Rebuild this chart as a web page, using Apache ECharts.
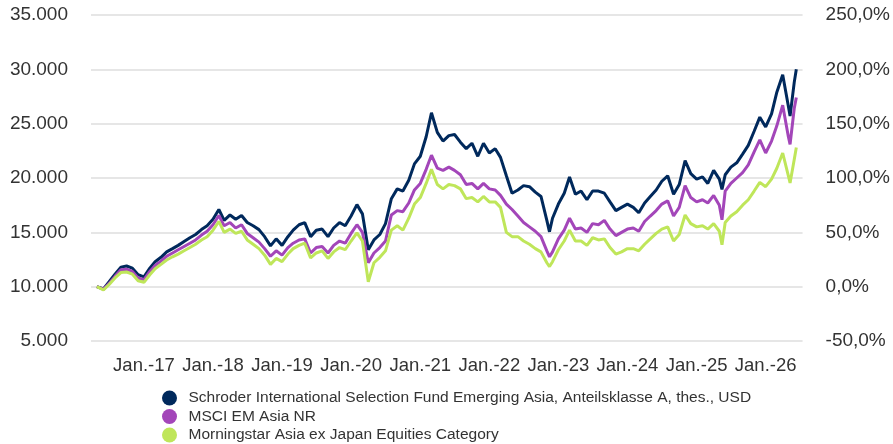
<!DOCTYPE html>
<html>
<head>
<meta charset="utf-8">
<script src="https://cdn.jsdelivr.net/npm/echarts@6/dist/echarts.min.js"></script>
<style>
html,body{margin:0;padding:0;background:#fff;}
#chart{width:893px;height:444px;}
</style>
</head>
<body>
<div id="chart"></div>
<script>
var seriesNames = [
  'Schroder International Selection Fund Emerging Asia, Anteilsklasse A, thes., USD',
  'MSCI EM Asia NR',
  'Morningstar Asia ex Japan Equities Category'
];
var seriesColors = ['#00295c', '#a346b9', '#bfe65a'];

var dates = [
'2016-04-27','2016-05-01','2016-06-01','2016-07-01','2016-08-01','2016-09-01','2016-10-01','2016-11-01','2016-12-01',
'2017-01-01','2017-02-01','2017-03-01','2017-04-01','2017-05-01','2017-06-01','2017-07-01','2017-08-01','2017-09-01','2017-10-01','2017-11-01','2017-12-01',
'2018-01-01','2018-02-01','2018-03-01','2018-04-01','2018-05-01','2018-06-01','2018-07-01','2018-08-01','2018-09-01','2018-10-01','2018-11-01','2018-12-01',
'2019-01-01','2019-02-01','2019-03-01','2019-04-01','2019-05-01','2019-06-01','2019-07-01','2019-08-01','2019-09-01','2019-10-01','2019-11-01','2019-12-01',
'2020-01-01','2020-02-01','2020-03-01','2020-04-01','2020-05-01','2020-06-01','2020-07-01','2020-08-01','2020-09-01','2020-10-01','2020-11-01','2020-12-01',
'2021-01-01','2021-02-01','2021-03-01','2021-04-01','2021-05-01','2021-06-01','2021-07-01','2021-08-01','2021-09-01','2021-10-01','2021-11-01','2021-12-01',
'2022-01-01','2022-02-01','2022-03-01','2022-04-01','2022-05-01','2022-06-01','2022-07-01','2022-08-01','2022-09-01','2022-10-01','2022-11-01','2022-11-15','2022-12-01',
'2023-01-01','2023-02-01','2023-03-01','2023-04-01','2023-05-01','2023-06-01','2023-07-01','2023-08-01','2023-09-01','2023-10-01','2023-11-01','2023-12-01',
'2024-01-01','2024-02-01','2024-03-01','2024-04-01','2024-05-01','2024-06-01','2024-07-01','2024-08-01','2024-09-01','2024-10-01','2024-11-01','2024-12-01',
'2025-01-01','2025-02-01','2025-03-01','2025-04-01','2025-05-01','2025-05-15','2025-06-01','2025-07-01','2025-08-01','2025-09-01','2025-10-01','2025-11-01','2025-12-01',
'2026-01-01','2026-02-01','2026-03-01','2026-04-01','2026-05-01','2026-05-10','2026-06-01','2026-06-12'
];

var schroder = [
10000,9950,9800,10450,11150,11800,11900,11700,11100,
10900,11700,12300,12700,13200,13500,13800,14150,14500,14800,15250,15600,
16200,17100,16100,16600,16200,16550,15900,15600,15250,14600,13750,14400,
13800,14600,15200,15700,15900,14600,15200,15300,14600,15400,15900,15600,
16500,17550,16700,13400,14300,14800,15800,18100,19000,18800,19800,21300,
22000,23800,26000,24200,23400,23900,24000,23300,22700,23200,22000,23200,
22300,22700,21900,20200,18600,18900,19300,19200,18700,18300,16100,15050,16300,
17600,18600,20100,18500,18800,18000,18800,18800,18600,17800,17000,17300,
17600,17300,16800,17700,18300,18900,19700,20200,18500,19400,21600,20400,
19900,20100,19500,20700,19900,18950,20300,21000,21400,22200,23000,24300,25600,
24700,25900,27900,29500,26600,25700,28800,30000
];

var msci = [
10000,9950,9750,10300,10950,11550,11600,11400,10800,
10650,11400,11950,12350,12800,13100,13400,13700,14000,14300,14750,15100,
15700,16550,15600,15900,15400,15700,14900,14500,14100,13500,12800,13300,
12900,13600,14000,14300,14400,13100,13600,13700,13100,13800,14200,14000,
14900,15700,15000,12200,13100,13600,14200,16600,17000,16900,17700,18900,
19500,20800,22100,20900,20700,21000,20700,20300,19400,19500,19000,19500,
19000,18900,18400,17600,17100,16500,15900,15500,15100,14600,13300,12750,13200,
14400,15200,16300,15300,15400,15000,15800,15700,16100,15300,14700,15000,
15300,15400,15100,16000,16500,17000,17600,17900,16500,17300,19300,18200,
17800,18000,17700,18400,17500,16150,18800,19500,20000,20500,21200,22400,23500,
22300,23400,24800,26700,23800,23100,26400,27400
];

var morningstar = [
10000,9900,9700,10200,10800,11300,11350,11150,10550,
10400,11100,11650,12050,12450,12750,13000,13300,13600,13900,14300,14600,
15200,16000,15000,15300,14900,15100,14300,13900,13500,12900,12050,12600,
12300,13000,13500,13800,14000,12650,13100,13300,12600,13200,13600,13400,
14200,14950,14200,10450,12200,12700,13300,15200,15600,15200,16300,17600,
18200,19500,20800,19400,19000,19400,19300,19000,18100,18200,17800,18300,
17800,17800,17300,15000,14600,14600,14200,13900,13500,13200,12200,11850,12300,
13400,14200,15200,14200,14200,13800,14500,14300,14400,13600,13000,13200,
13500,13500,13300,13900,14400,14900,15300,15500,14200,14800,16600,15800,
15500,15600,15300,15800,15100,13850,15900,16500,16900,17500,18000,18800,19600,
19200,19900,20900,22300,20200,19550,21700,22800
];

var xMin = '2016-03-27';
var xMax = '2026-07-15';

function pairs(vals){
  return dates.map(function(d,i){ return [d, vals[i]]; });
}
function parseLocal(s){
  var p = s.split('-');
  return new Date(+p[0], +p[1]-1, +p[2]).getTime();
}

var FONT = 'Arial, "Liberation Sans", sans-serif';
var TXT = '#333333';
var YEAR_MS = 365.25 * 24 * 3600 * 1000;

var chart = echarts.init(document.getElementById('chart'), null, {renderer:'canvas'});
var allVals = [schroder, msci, morningstar];

chart.setOption({
  animation: false,
  backgroundColor: '#ffffff',
  grid: {left: 91, right: 90, top: 15, bottom: 103, containLabel: false},
  legend: {
    orient: 'vertical',
    left: 162, top: 390, width: 700, height: 80,
    padding: 0,
    itemWidth: 28, itemHeight: 15, itemGap: 2.5,
    icon: 'circle',
    data: seriesNames,
    textStyle: {fontFamily: FONT, fontSize: 15.5, color: TXT, lineHeight: 15},
    selectedMode: false
  },
  xAxis: {
    type: 'time',
    min: parseLocal(xMin),
    max: parseLocal(xMax),
    minInterval: YEAR_MS * 0.99,
    maxInterval: YEAR_MS * 1.01,
    axisLine: {show: false},
    axisTick: {show: false},
    splitLine: {show: false},
    axisLabel: {
      formatter: function(v){
        var d = new Date(v);
        if (d.getMonth() !== 0 || d.getDate() !== 1) return '';
        var yy = String(d.getFullYear()).slice(2);
        return 'Jan.-' + yy;
      },
      showMinLabel: false, showMaxLabel: false,
      fontFamily: FONT, fontSize: 18.5, color: TXT, margin: 15,
      hideOverlap: false
    }
  },
  yAxis: [
    {
      type: 'value', min: 5000, max: 35000, interval: 5000, position: 'left',
      axisLine: {show: false}, axisTick: {show: false},
      splitLine: {show: true, lineStyle: {color: '#e6e6e6', width: 2}},
      axisLabel: {
        formatter: function(v){ return String(v).replace(/\B(?=(\d{3})+(?!\d))/g, '.'); },
        fontFamily: FONT, fontSize: 19, color: TXT, margin: 23, padding: [7,0,0,0]
      }
    },
    {
      type: 'value', min: -50, max: 250, interval: 50, position: 'right',
      axisLine: {show: false}, axisTick: {show: false}, splitLine: {show: false},
      axisLabel: {
        formatter: function(v){ return v.toFixed(1).replace('.', ',') + '%'; },
        fontFamily: FONT, fontSize: 19, color: TXT, margin: 23, padding: [7,0,0,0]
      }
    }
  ],
  series: seriesNames.map(function(name, i){
    return {
      name: name, type: 'line', yAxisIndex: 0,
      data: pairs(allVals[i]),
      showSymbol: false, symbol: 'circle',
      lineStyle: {width: 3, color: seriesColors[i]},
      itemStyle: {color: seriesColors[i]},
      z: 2 + i
    };
  })
});
</script>
</body>
</html>
